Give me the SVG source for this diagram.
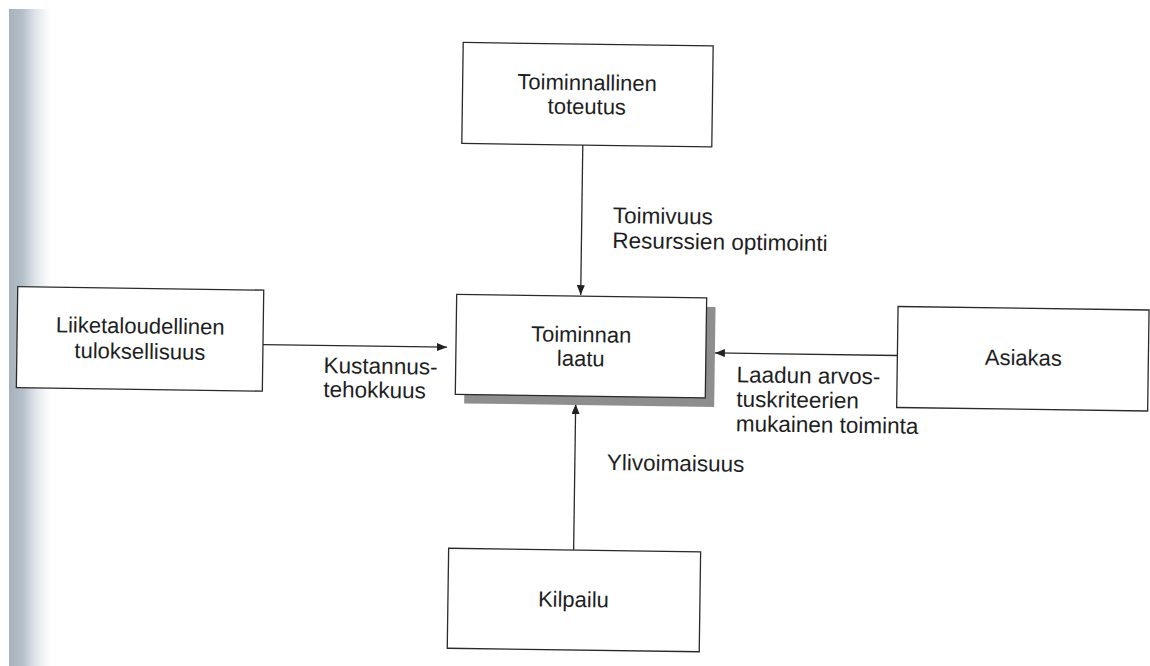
<svg xmlns="http://www.w3.org/2000/svg" width="1150" height="666" viewBox="0 0 1150 666">
  <defs>
    <linearGradient id="binding" x1="0" y1="0" x2="1" y2="0">
      <stop offset="0" stop-color="#a6b2bd"/>
      <stop offset="0.3" stop-color="#b2bdc7"/>
      <stop offset="0.65" stop-color="#e2e7ec"/>
      <stop offset="1" stop-color="#ffffff"/>
    </linearGradient>
    <marker id="arrow" markerWidth="10" markerHeight="8" refX="10" refY="4" orient="auto" markerUnits="userSpaceOnUse">
      <path d="M0,0 L10,4 L0,8 Z" fill="#222"/>
    </marker>
    <style>
      .box { fill: #ffffff; stroke: #2a2a2a; stroke-width: 1.3; }
      .shadow { fill: #8e8e8e; }
      .conn { stroke: #2a2a2a; stroke-width: 1.3; fill: none; marker-end: url(#arrow); }
      text { font-family: "Liberation Sans", Arial, sans-serif; fill: #1e1e1e; }
      .node { font-size: 22px; text-anchor: middle; }
      .lbl { font-size: 22.5px; }
    </style>
  </defs>
  <rect width="1150" height="666" fill="#ffffff"/>
  <rect x="9" y="9" width="42" height="657" fill="url(#binding)"/>

  <g transform="rotate(0.8 575 345)">
    <g id="connectors">
      <line class="conn" x1="580" y1="145" x2="580" y2="295"/>
      <line class="conn" x1="263" y1="349" x2="447" y2="349"/>
      <line class="conn" x1="897.5" y1="351" x2="715" y2="351"/>
      <line class="conn" x1="576.5" y1="550" x2="576.5" y2="404"/>
    </g>

    <g id="node-toiminnallinen">
      <rect class="box" x="459" y="44" width="250" height="101"/>
      <text class="node" x="583.5" y="90">Toiminnallinen</text>
      <text class="node" x="583.5" y="114">toteutus</text>
    </g>

    <g id="node-laatu">
      <rect class="shadow" x="465" y="305" width="250" height="100"/>
      <rect class="box" x="456" y="296" width="250" height="100"/>
      <text class="node" x="581" y="342">Toiminnan</text>
      <text class="node" x="581" y="366">laatu</text>
    </g>

    <g id="node-liiketaloudellinen">
      <rect class="box" x="17" y="294.5" width="246" height="101"/>
      <text class="node" x="140" y="339.5">Liiketaloudellinen</text>
      <text class="node" x="140" y="365">tuloksellisuus</text>
    </g>

    <g id="node-asiakas">
      <rect class="box" x="897.5" y="302" width="251" height="101"/>
      <text class="node" x="1023.5" y="359">Asiakas</text>
    </g>

    <g id="node-kilpailu">
      <rect class="box" x="451.5" y="550" width="252" height="100"/>
      <text class="node" x="577" y="607">Kilpailu</text>
    </g>

    <g id="labels">
      <text class="lbl" x="611" y="222.5">Toimivuus</text>
      <text class="lbl" x="611" y="247.5">Resurssien optimointi</text>
      <text class="lbl" x="324" y="376.5">Kustannus-</text>
      <text class="lbl" x="324" y="400.5">tehokkuus</text>
      <text class="lbl" x="737" y="380">Laadun arvos-</text>
      <text class="lbl" x="737" y="404.5">tuskriteerien</text>
      <text class="lbl" x="737" y="429">mukainen toiminta</text>
      <text class="lbl" x="608.5" y="469.5">Ylivoimaisuus</text>
    </g>
  </g>
</svg>
